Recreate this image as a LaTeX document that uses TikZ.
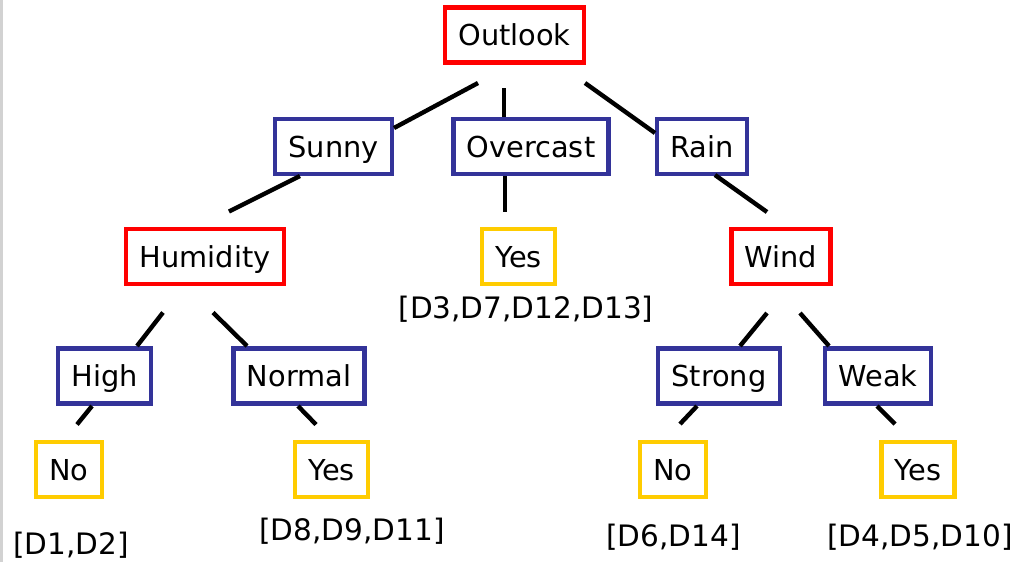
\documentclass[tikz,border=0pt]{standalone}
\usepackage{fontspec}
\setmainfont{DejaVu Sans}
\usepackage{xcolor}
\usetikzlibrary{calc,positioning}

\definecolor{attrred}{HTML}{FF0000}
\definecolor{valblue}{HTML}{333399}
\definecolor{leafyellow}{HTML}{FFCC00}

\tikzset{
  box/.style={draw, line width=0.11cm, inner xsep=0.335cm, minimum height=1.37cm,
              text height=15pt, text depth=0pt,
              font=\fontsize{20.5pt}{24pt}\selectfont},
  attr/.style={box, draw=attrred},
  val/.style={box, draw=valblue},
  leaf/.style={box, draw=leafyellow},
  edge/.style={line width=0.11cm, black},
  dset/.style={inner sep=0pt, text height=15.3pt, text depth=0pt,
               font=\fontsize{21pt}{24pt}\selectfont}
}

\begin{document}
\begin{tikzpicture}[x=0.025cm, y=-0.025cm]
\useasboundingbox (0,0) rectangle (1024,562);

% slide edge
\draw[line width=0.05cm, gray!35] (1.5,0) -- (1.5,562);

% root
\node[attr] (outlook) at (514.5,35) {Outlook};

% outlook values
\node[val] (sunny)    at (333.5,146.5) {Sunny};
\node[val] (overcast) at (531,146.5) {Overcast};
\node[val] (rain)     at (702,146.5) {Rain};

% second level
\node[attr] (humidity) at (205,256.5) {Humidity};
\node[leaf] (yesO)     at (518.5,256.5) {Yes};
\node[attr] (wind)     at (781,256.5) {Wind};
\node[dset] (dsO) at (526,308) {[D3,D7,D12,D13]};

% humidity / wind values
\node[val] (high)   at (104.5,376) {High};
\node[val] (normal) at (299,376) {Normal};
\node[val] (strong) at (719,376) {Strong};
\node[val] (weak)   at (878,376) {Weak};

% leaves
\node[leaf] (noH)  at (69,469.5) {No};
\node[leaf] (yesN) at (331.5,469.5) {Yes};
\node[leaf] (noS)  at (673,469.5) {No};
\node[leaf] (yesW) at (918,469.5) {Yes};

\node[dset] (dsH) at (71,544) {[D1,D2]};
\node[dset] (dsN) at (352,530) {[D8,D9,D11]};
\node[dset] (dsS) at (673.5,536) {[D6,D14]};
\node[dset] (dsW) at (920,536) {[D4,D5,D10]};

% ... outlook branches
\draw[edge] ($(outlook)+(-36.5,48)$) -- ($(sunny)+(60.5,-18.5)$);
\draw[edge] ($(outlook)+(-10.5,53)$) -- ($(overcast)+(-27,-29.5)$);
\draw[edge] ($(outlook)+(70.5,48)$) -- ($(rain)+(-47,-13.5)$);

% ... second level
\draw[edge] ($(sunny)+(-33.5,29.5)$) -- ($(humidity)+(24,-45)$);
\draw[edge] ($(overcast)+(-26,29.5)$) -- ($(yesO)+(-13.5,-44.5)$);
\draw[edge] ($(rain)+(13,28.5)$) -- ($(wind)+(-14,-44.5)$);

% ... humidity
\draw[edge] ($(humidity)+(-42,56)$) -- ($(high)+(32.5,-30)$);
\draw[edge] ($(humidity)+(8,56)$) -- ($(normal)+(-52,-30)$);
\draw[edge] ($(high)+(-12.5,30)$) -- ($(noH)+(8,-45)$);
\draw[edge] ($(normal)+(-1,30)$) -- ($(yesN)+(-15.5,-45)$);

% ... wind
\draw[edge] ($(wind)+(-14,56.5)$) -- ($(strong)+(21,-30)$);
\draw[edge] ($(wind)+(19,56.5)$) -- ($(weak)+(-49,-30)$);
\draw[edge] ($(strong)+(-22,30)$) -- ($(noS)+(7,-45.5)$);
\draw[edge] ($(weak)+(-1,30)$) -- ($(yesW)+(-23,-45.5)$);

\end{tikzpicture}
\end{document}
